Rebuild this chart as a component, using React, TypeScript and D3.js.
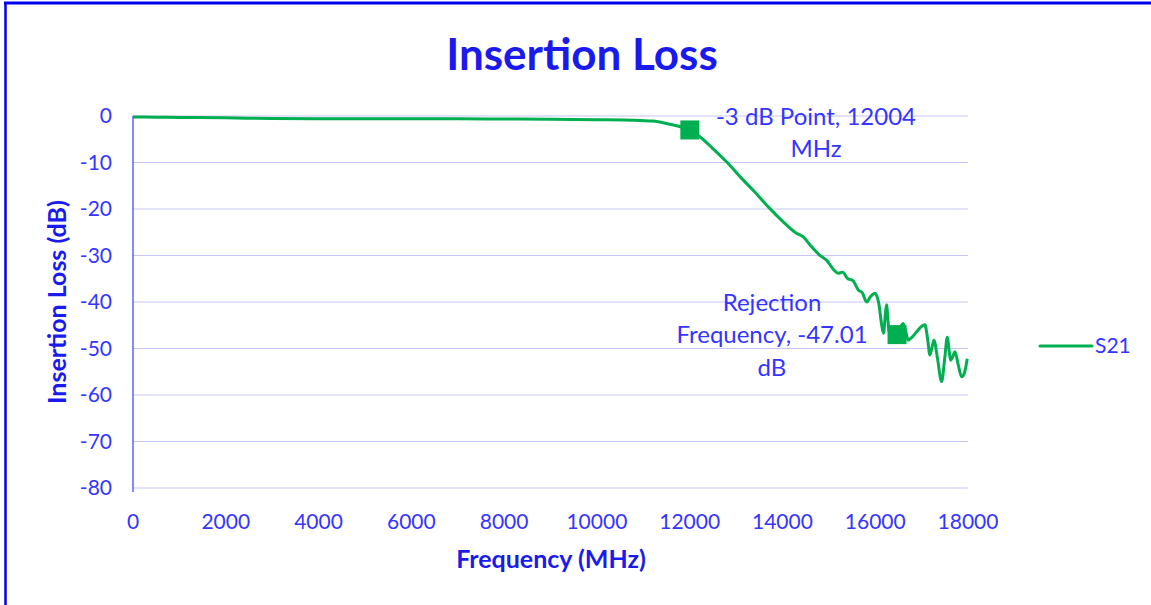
import * as d3 from 'd3';

// S21 insertion loss trace (MHz, dB)
const freqs = [
  0, 500, 1000, 2000, 3000, 4000, 5000, 6000, 7000, 8000, 9000, 10000, 10800, 11200, 11500, 11800,
  12004, 12200, 12500, 12800, 13100, 13400, 13700, 14000, 14300, 14450, 14600, 14800, 14950, 15100,
  15200, 15300, 15400, 15520, 15634, 15720, 15815, 15900, 15994, 16080, 16140, 16180, 16215, 16244,
  16275, 16302, 16360, 16420, 16470, 16540, 16603, 16660, 16711, 16800, 16900, 17000, 17071, 17130,
  17179, 17230, 17266, 17340, 17431, 17500, 17553, 17600, 17625, 17670, 17718, 17790, 17862, 17930, 17983,
];
const s21 = [
  -0.2, -0.25, -0.3, -0.4, -0.55, -0.6, -0.6, -0.6, -0.6, -0.65, -0.7, -0.8, -0.9, -1.1, -1.6, -2.3,
  -3.0, -4.3, -7.0, -9.9, -13.2, -16.3, -19.6, -22.6, -25.2, -26.0, -27.8, -29.9, -31.0, -33.0,
  -33.8, -33.6, -34.9, -35.4, -37.4, -38.0, -40.0, -38.8, -38.1, -40.5, -45.0, -46.7, -43.0, -40.6,
  -44.0, -46.7, -45.5, -46.5, -47.0, -45.5, -44.6, -46.5, -48.2, -47.5, -46.3, -45.2, -44.9, -48.0,
  -51.4, -49.5, -48.2, -52.0, -57.1, -52.0, -47.6, -51.0, -52.5, -51.8, -50.7, -53.5, -56.1, -55.0, -52.2,
];

// marked points
const markerFreqs = [12004, 16470];
const markerValues = [-3.0, -47.01];

const xTicks = [0, 2000, 4000, 6000, 8000, 10000, 12000, 14000, 16000, 18000];
const yTicks = [0, -10, -20, -30, -40, -50, -60, -70, -80];

const W = 1151;
const H = 605;
const font = 'Lato, "Open Sans", sans-serif';
const tickColor = '#3535ff';
const titleColor = '#1a1aee';
const green = '#00b050';

export default function App() {
  const x = d3.scaleLinear().domain([0, 18000]).range([133, 968]);
  const y = d3.scaleLinear().domain([0, -80]).range([116, 488]);

  const pts = freqs.map((f, i) => [f, s21[i]] as [number, number]);
  const line = d3
    .line<[number, number]>()
    .x((d) => x(d[0]))
    .y((d) => y(d[1]))
    .curve(d3.curveMonotoneX);

  const mk = 19;

  return (
    <div style={{ position: 'absolute', left: 0, top: 0 }}>
      <svg width={W} height={H} style={{ display: 'block', background: '#fff' }}>
        {/* outer frame */}
        <line x1={4} x2={W} y1={3} y2={3} stroke="#0000ee" strokeWidth={3} />
        <line x1={5.5} x2={5.5} y1={2} y2={H} stroke="#0000ee" strokeWidth={2.5} />

        <text x={582} y={70} textAnchor="middle" fontFamily={font} fontWeight="bold" fontSize={44} fill={titleColor}>
          Insertion Loss
        </text>

        {/* grid */}
        {yTicks.map((t) => (
          <line key={t} x1={x(0)} x2={x(18000)} y1={y(t)} y2={y(t)} stroke="#c6c6f6" strokeWidth={1.2} />
        ))}
        <line x1={x(0)} x2={x(0)} y1={y(0)} y2={y(-80) + 4} stroke="#4a4aff" strokeWidth={1.3} />

        {yTicks.map((t) => (
          <text key={t} x={112} y={y(t)} dy="0.35em" textAnchor="end" fontFamily={font} fontSize={21} fill={tickColor}>
            {t}
          </text>
        ))}
        {xTicks.map((t) => (
          <text key={t} x={x(t)} y={529} textAnchor="middle" fontFamily={font} fontSize={21} fill={tickColor}>
            {t}
          </text>
        ))}

        <text x={551} y={568} textAnchor="middle" fontFamily={font} fontWeight="bold" fontSize={25} fill={titleColor}>
          Frequency (MHz)
        </text>
        <text
          transform={`translate(66,302) rotate(-90)`}
          textAnchor="middle"
          fontFamily={font}
          fontWeight="bold"
          fontSize={25}
          fill={titleColor}
        >
          Insertion Loss (dB)
        </text>

        {/* trace */}
        <path d={line(pts) ?? ''} fill="none" stroke={green} strokeWidth={3} strokeLinejoin="round" />

        {markerFreqs.map((f, i) => (
          <rect key={f} x={x(f) - mk / 2} y={y(markerValues[i]) - mk / 2} width={mk} height={mk} fill={green} />
        ))}

        {/* data labels */}
        <text textAnchor="middle" fontFamily={font} fontSize={24} fill={tickColor}>
          <tspan x={816} y={125}>-3 dB Point, 12004</tspan>
          <tspan x={816} y={157}>MHz</tspan>
        </text>
        <text textAnchor="middle" fontFamily={font} fontSize={24} fill={tickColor}>
          <tspan x={772} y={311}>Rejection</tspan>
          <tspan x={772} y={343}>Frequency, -47.01</tspan>
          <tspan x={772} y={376}>dB</tspan>
        </text>

        {/* legend */}
        <line x1={1040} x2={1092} y1={346} y2={346} stroke={green} strokeWidth={3} strokeLinecap="round" />
        <text x={1095} y={353} fontFamily={font} fontSize={21} fill={tickColor}>
          S21
        </text>
      </svg>
    </div>
  );
}
